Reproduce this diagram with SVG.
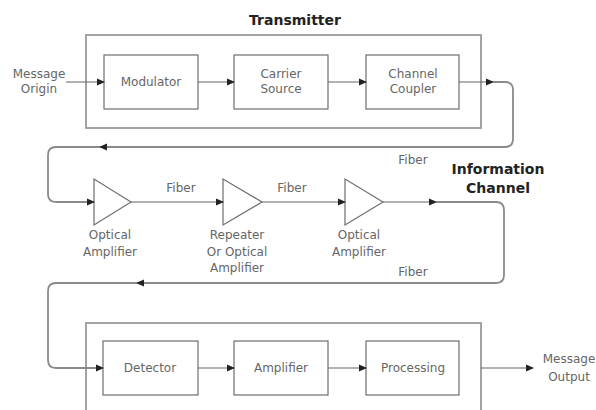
<svg xmlns="http://www.w3.org/2000/svg" width="596" height="410" viewBox="0 0 596 410">
<defs>
<marker id="ah" markerWidth="8" markerHeight="8" refX="7" refY="4" orient="auto" markerUnits="userSpaceOnUse">
<path d="M0,0.5 L8,4 L0,7.5 Z" fill="#222"/>
</marker>
</defs>
<style>
.outer{fill:none;stroke:#9a9a9a;stroke-width:1.8}
.box{fill:#fff;stroke:#6e6e6e;stroke-width:1.2}
.tri{fill:#fff;stroke:#6e6e6e;stroke-width:1.2}
.lbl{font-family:"DejaVu Sans",sans-serif;font-size:12px;fill:#666;text-anchor:middle}
.ttl{font-family:"DejaVu Sans",sans-serif;font-size:14px;font-weight:bold;fill:#222;text-anchor:middle}
.ln{fill:none;stroke:#666;stroke-width:1.2}
.ln2{fill:none;stroke:#8a8a8a;stroke-width:1.8}
</style>
<rect width="596" height="410" fill="#fff"/>
<g id="transmitter">
<text class="ttl" x="295" y="25">Transmitter</text>
<rect class="outer" x="86" y="35" width="395" height="93"/>
</g>
<g id="receiver">
<rect class="outer" x="86" y="323" width="395" height="100"/>
</g>
<g id="message-origin"><text class="lbl" x="39" y="78">Message</text><text class="lbl" x="39" y="93">Origin</text></g>
<g id="modulator"><rect class="box" x="104" y="55" width="94" height="54"/><text class="lbl" x="151" y="86">Modulator</text></g>
<g id="carrier-source"><rect class="box" x="234" y="55" width="94" height="54"/><text class="lbl" x="281" y="78">Carrier</text><text class="lbl" x="281" y="93">Source</text></g>
<g id="channel-coupler"><rect class="box" x="366" y="55" width="93" height="54"/><text class="lbl" x="413" y="78">Channel</text><text class="lbl" x="413" y="93">Coupler</text></g>
<g id="info-channel"><text class="ttl" x="498" y="174">Information</text><text class="ttl" x="498" y="193">Channel</text></g>
<g id="amp1"><polygon class="tri" points="94,179 94,225 131,202"/><text class="lbl" x="110" y="239">Optical</text><text class="lbl" x="110" y="256">Amplifier</text></g>
<g id="repeater"><polygon class="tri" points="223,179 223,225 262,202"/><text class="lbl" x="237" y="239">Repeater</text><text class="lbl" x="237" y="256">Or Optical</text><text class="lbl" x="237" y="272">Amplifier</text></g>
<g id="amp3"><polygon class="tri" points="345,179 345,225 383,202"/><text class="lbl" x="359" y="239">Optical</text><text class="lbl" x="359" y="256">Amplifier</text></g>
<g id="detector"><rect class="box" x="103" y="341" width="95" height="54"/><text class="lbl" x="150" y="372">Detector</text></g>
<g id="amplifier"><rect class="box" x="234" y="341" width="94" height="54"/><text class="lbl" x="281" y="372">Amplifier</text></g>
<g id="processing"><rect class="box" x="366" y="341" width="93" height="54"/><text class="lbl" x="413" y="372">Processing</text></g>
<g id="message-output"><text class="lbl" x="569" y="363">Message</text><text class="lbl" x="569" y="381">Output</text></g>
<g id="fiber-labels">
<text class="lbl" x="413" y="164">Fiber</text>
<text class="lbl" x="181" y="192">Fiber</text>
<text class="lbl" x="292" y="192">Fiber</text>
<text class="lbl" x="413" y="276">Fiber</text>
</g>
<g id="connectors">
<path class="ln" d="M66,82 H104" marker-end="url(#ah)"/>
<path class="ln" d="M198,82 H234" marker-end="url(#ah)"/>
<path class="ln" d="M328,82 H366" marker-end="url(#ah)"/>
<path class="ln" d="M459,82 H493" marker-end="url(#ah)"/>
<path class="ln2" d="M493,82 H505 Q513,82 513,90 V139 Q513,147 505,147 H100" marker-end="url(#ah)"/>
<path class="ln2" d="M100,147 H56 Q48,147 48,155 V194 Q48,202 56,202 H94" marker-end="url(#ah)"/>
<path class="ln" d="M131,202 H223" marker-end="url(#ah)"/>
<path class="ln" d="M262,202 H345" marker-end="url(#ah)"/>
<path class="ln" d="M383,202 H436" marker-end="url(#ah)"/>
<path class="ln2" d="M436,202 H496 Q504,202 504,210 V275 Q504,283 496,283 H137" marker-end="url(#ah)"/>
<path class="ln2" d="M137,283 H56 Q48,283 48,291 V360 Q48,368 56,368 H103" marker-end="url(#ah)"/>
<path class="ln" d="M198,368 H234" marker-end="url(#ah)"/>
<path class="ln" d="M328,368 H366" marker-end="url(#ah)"/>
<path class="ln" d="M481,368 H533" marker-end="url(#ah)"/>
</g>
</svg>
